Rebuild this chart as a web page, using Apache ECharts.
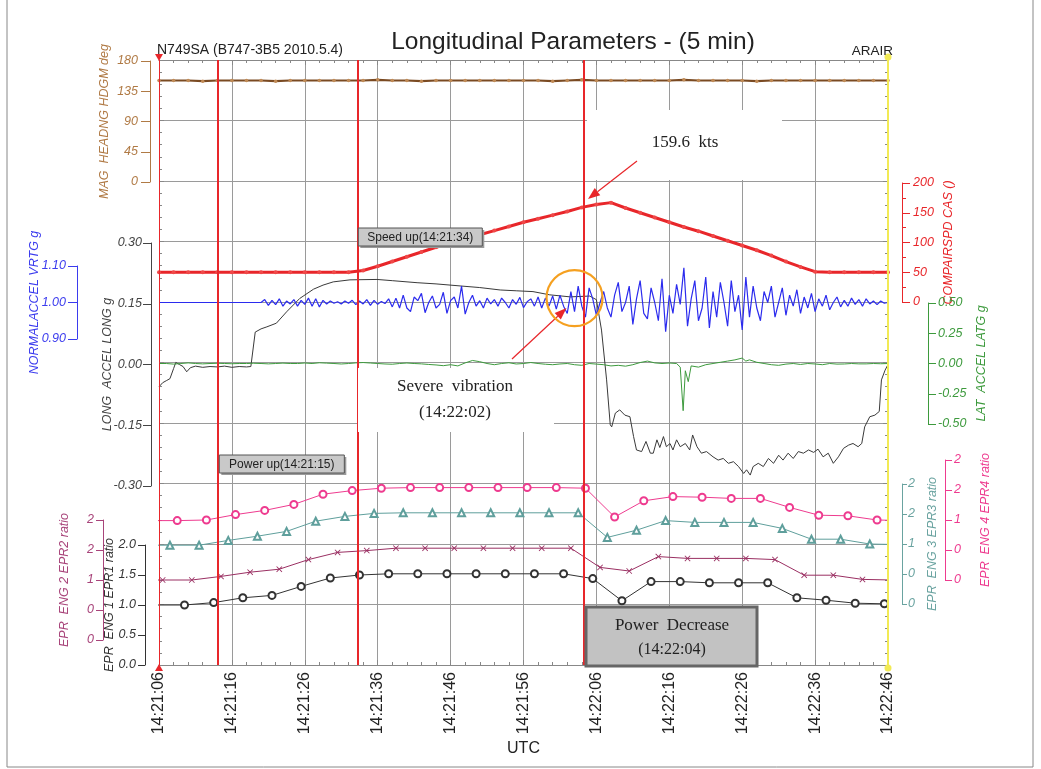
<!DOCTYPE html>
<html><head><meta charset="utf-8">
<script src="https://cdn.jsdelivr.net/npm/echarts/dist/echarts.min.js"></script>
<style>html,body{margin:0;padding:0;background:#fff}#c{width:1041px;height:769px}</style>
</head><body><div id="c"></div>
<script>
// ---------------- DATA (time = seconds after 14:21:06 UTC) ----------------
const xTickLabels = ['14:21:06','14:21:16','14:21:26','14:21:36','14:21:46','14:21:56','14:22:06','14:22:16','14:22:26','14:22:36','14:22:46'];
const epr1TickLabels = ['0.0','0.5','1.0','1.5','2.0'];
const epr2TickLabels = ['0','0','1','2','2'];
const epr3TickLabels = ['0','0','1','2','2'];
const epr4TickLabels = ['0','0','1','2','2'];
const eventTimes = [8, 27.2, 58.3]; // Power up, Speed up, Power decrease markers

// MAG HEADING (deg), every 2 s
const headingStep = 2;
const heading = [151,151,151,150,151,151,151,151,150,151, 151,151,151,151,151,152,151,151,150,151,
                 151,151,151,151,151,151,151,150,151,152, 151,151,151,151,151,151,152,151,151,151,
                 151,150,151,151,151,151,151,151,151,151, 151];
// COMPUTED AIRSPEED (kts), every 2 s
const casStep = 2;
const cas = [50,50,50,50,50,50,50,50,50,50,50,50,50,50, 53,
             60,68,76,84,92,99,106,113,120,127,134,140,146,152,159,164,167,158,150,142,134,126,119,111,103,95,87,78,68,59,51,
             50,50,50,50,50];
// NORMAL ACCEL (g): flat until 14 s, then every 0.5 s
const vrtgFlat = [[0, 1.0], [13.5, 1.0]];
const vrtgStart = 14, vrtgStep = 0.5;
const vrtg = [1.00,1.008,0.992,1.006,0.994,1.01,0.99,1.004,0.996,1.008,0.99,1.006,0.995,
  1.012,0.99,1.01,0.988,1.006,0.996,1.004,0.998,1.002,0.996,1.004,0.998,1.006,0.994,
  1.004,0.996,1.008,0.992,1.006,0.995,1.003,0.997,1.01,0.988,1.012,0.985,
  1.02,0.985,0.975,1.015,1.005,1.025,0.972,1.0,1.018,0.985,0.995,1.028,0.97,1.005,
  1.015,0.985,1.045,0.968,1.0,1.02,0.99,1.005,0.985,1.012,0.996,1.008,
  0.99,1.012,1.0,0.985,1.008,0.995,1.014,0.986,1.002,1.01,0.99,1.015,
  0.985,1.012,0.99,1.018,0.982,1.02,0.99,0.97,
  1.03,0.975,1.045,0.99,0.96,1.04,1.01,0.965,
  1.0,1.03,0.985,0.96,1.02,1.055,0.975,1.0,
  1.045,0.94,1.01,1.06,0.97,0.955,1.04,1.0,0.95,1.065,0.92,1.02,
  0.97,1.05,0.995,1.095,0.935,1.01,1.06,0.95,0.985,1.07,0.93,1.03,
  0.96,1.055,1.0,0.935,1.06,0.975,1.02,0.925,1.07,0.96,1.045,0.985,
  0.95,1.03,1.0,1.045,0.96,1.0,1.04,0.965,1.02,0.99,1.035,0.97,
  1.015,0.985,1.025,0.975,1.01,0.99,1.02,0.98,1.0,1.015,0.988,1.006,
  0.99,1.012,0.995,1.008,0.99,1.01,0.996,1.004,0.994,1.004,0.998,1.0];
// LONG ACCEL (g) [time, value]
const longAccel = [[0,-0.055],[0.5,-0.045],[1,-0.04],[1.5,-0.035],[2,-0.01],[2.3,0.005],[2.8,0],[3.3,-0.005],[3.8,-0.018],[4.3,-0.008],[5,-0.004],[6,-0.007],[7,-0.005],[8,-0.006],[9,-0.004],[10,-0.007],[11,-0.005],[12,-0.006],[12.6,-0.005],[13.2,0.08],[14,0.088],[14.8,0.093],[16.1,0.102],[17.5,0.13],[19.3,0.163],[21.2,0.186],[22.5,0.196],[23.9,0.204],[26.2,0.209],[29.9,0.21],[32,0.207],[35.4,0.202],[38,0.199],[41.3,0.194],[44,0.19],[46.8,0.184],[49,0.182],[51.3,0.18],[53.6,0.172],[56.4,0.167],[59.1,0.169],[60,0.16],[60.7,0.085],[61.4,-0.038],[61.9,-0.149],[62.1,-0.154],[62.6,-0.12],[63.2,-0.112],[63.9,-0.125],[64.6,-0.129],[65.1,-0.178],[65.5,-0.211],[66.2,-0.215],[66.8,-0.19],[67.4,-0.219],[67.8,-0.219],[68.3,-0.186],[68.7,-0.205],[69.2,-0.178],[69.6,-0.203],[70.1,-0.195],[70.5,-0.211],[71,-0.186],[71.5,-0.203],[72.2,-0.195],[72.8,-0.211],[73.2,-0.174],[73.8,-0.203],[74.4,-0.219],[75.1,-0.215],[76,-0.228],[76.7,-0.236],[77.4,-0.232],[78.1,-0.244],[78.8,-0.24],[79.5,-0.252],[80.2,-0.269],[80.6,-0.26],[81.1,-0.273],[81.5,-0.252],[82.2,-0.244],[82.9,-0.252],[83.6,-0.232],[84.3,-0.244],[85,-0.224],[85.6,-0.236],[86.3,-0.219],[87,-0.232],[87.7,-0.215],[88.4,-0.219],[89.1,-0.211],[89.8,-0.217],[90.4,-0.209],[91.1,-0.228],[91.8,-0.219],[92.5,-0.244],[93.2,-0.228],[93.9,-0.207],[94.6,-0.199],[95.2,-0.195],[95.9,-0.203],[96.4,-0.195],[96.8,-0.154],[97.5,-0.129],[98.2,-0.125],[98.8,-0.116],[99.1,-0.038],[99.6,-0.014],[100,0]];
// LAT ACCEL (g) [time, value]
const latAccel = [[0,0],[1,0],[2,-0.005],[3,0],[4,0.005],[5,0],[6,-0.003],[7,0],[8,0.002],[9,0],[10,-0.002],[11,0],[12,0],[13,0.002],[14,0],[15,-0.003],[16,0],[17,0.003],[18,0],[19,0],[20,0.004],[21,0],[22,0.006],[23,0.003],[24,0],[25,-0.004],[26,0],[27,0.005],[28,0.008],[29,0.004],[30,0],[31,-0.004],[32,-0.006],[33,0],[34,0.004],[35,0],[36,-0.003],[37,-0.008],[38,-0.012],[39,-0.018],[40,-0.01],[41,-0.02],[42,0.005],[43,0.025],[44,0.015],[45,0],[46,-0.01],[47,0],[48,0.006],[49,-0.004],[50,0],[51,0.008],[52,0],[53,-0.006],[54,-0.01],[55,-0.004],[56,0],[57,-0.01],[58,-0.015],[59,0],[60,-0.005],[61,-0.01],[62,-0.02],[63,-0.015],[64,-0.022],[65,-0.01],[66,0.008],[67,0.02],[68,0.005],[69,0],[70,0.004],[71,0],[71.5,-0.03],[71.9,-0.39],[72.2,-0.06],[72.6,-0.15],[73,-0.02],[74,-0.03],[75,-0.01],[76,0],[77,0.01],[78,0.02],[79,0.03],[80,0.045],[80.5,0.02],[81,0.03],[82,0.01],[83,0],[84,-0.01],[85,-0.015],[86,-0.005],[87,0],[88,-0.008],[89,0],[90,-0.004],[91,-0.01],[92,0],[93,-0.005],[94,-0.004],[95,0],[96,-0.003],[97,-0.003],[98,0],[99,-0.002],[100,0]];
// EPR ratios, one sample per engine every 4 s (staggered)
const eprStep = 4;
const epr1Start = -0.5, epr1 = [1.00,1.00,1.04,1.12,1.16,1.31,1.45,1.50,1.52,1.52,1.52,1.52,1.52,1.52,1.52,1.44,1.07,1.39,1.39,1.37,1.37,1.37,1.12,1.08,1.03,1.02,1.01];
const epr2Start = -3.5, epr2 = [1.00,1.00,1.00,1.06,1.13,1.18,1.34,1.46,1.49,1.53,1.53,1.53,1.53,1.53,1.53,1.53,1.21,1.15,1.39,1.36,1.36,1.36,1.34,1.08,1.08,1.01,1.00];
const epr3Start = -2.5, epr3 = [0.98,0.98,0.98,1.06,1.13,1.21,1.38,1.46,1.51,1.52,1.52,1.52,1.52,1.52,1.52,1.52,1.11,1.23,1.39,1.36,1.36,1.36,1.26,1.08,1.08,1.00,0.99];
const epr4Start = -1.5, epr4 = [0.99,0.99,1.00,1.09,1.16,1.26,1.43,1.49,1.53,1.54,1.54,1.54,1.54,1.54,1.54,1.53,1.05,1.32,1.39,1.38,1.36,1.36,1.21,1.08,1.07,1.00,0.99];

// ---------------- CHART ----------------
const SANS = '"Liberation Sans", Arial, sans-serif';
const SERIF = '"Liberation Serif", "DejaVu Serif", serif';
const stepped = (start, step, arr) => arr.map((v, i) => [start + i * step, v]);

const C = {
  brown: '#b07a45', brownLine: '#7a4a22', red: '#e8262a', blue: '#2b2bee',
  green: '#3d9a3d', epr1: '#333333', epr2: '#9a2f62', epr3: '#5f9f9c', epr4: '#ee3b8f'
};
const gridDefs = [
  [60, 605], [61, 121], [183, 119], [266, 73], [243, 243], [303, 121], [545, 120], [520, 120], [484, 120], [460, 120]
];
const grids = gridDefs.map(([top, h]) => ({left: 159, right: 153, top, height: h, containLabel: false, outerBoundsMode: 'none'}));

const xAxes = [
  {type: 'value', gridIndex: 0, min: 0, max: 100, interval: 10, position: 'bottom',
   axisLine: {show: true, onZero: false, lineStyle: {color: '#888'}},
   axisTick: {show: true, inside: true, length: 5, lineStyle: {color: '#888'}},
   minorTick: {show: true, splitNumber: 5, length: 3, lineStyle: {color: '#888'}},
   splitLine: {show: true, lineStyle: {color: '#9a9a9a', width: 1}},
   axisLabel: {rotate: 90, margin: 7, fontSize: 16, color: '#222', fontFamily: SANS,
               formatter: v => xTickLabels[Math.round(v / 10)] || ''},
   name: 'UTC', nameLocation: 'middle', nameGap: 76, nameMoveOverlap: false,
   nameTextStyle: {fontSize: 16, color: '#222', fontFamily: SANS}},
  {type: 'value', gridIndex: 0, min: 0, max: 100, interval: 10, position: 'top',
   axisLine: {show: true, onZero: false, lineStyle: {color: '#888'}},
   axisTick: {show: true, inside: true, length: 5, lineStyle: {color: '#888'}},
   minorTick: {show: true, splitNumber: 5, length: 3, lineStyle: {color: '#888'}},
   splitLine: {show: false}, axisLabel: {show: false}}
];
for (let g = 1; g < gridDefs.length; g++) xAxes.push({type: 'value', gridIndex: g, min: 0, max: 100, show: false});

function yax(gi, pos, off, min, max, interval, color, name, nameGap, fmt, tickLen, margin, extra) {
  return Object.assign({type: 'value', gridIndex: gi, position: pos, offset: off, min, max, interval,
    name, nameLocation: 'middle', nameRotate: 90, nameGap, nameMoveOverlap: false,
    nameTextStyle: {color, fontStyle: 'italic', fontSize: 12.5, fontFamily: SANS},
    axisLine: {show: true, onZero: false, lineStyle: {color, width: 1}},
    axisTick: {show: true, length: tickLen, lineStyle: {color}},
    axisLabel: {color, fontStyle: 'italic', fontSize: 12.5, fontFamily: SANS, margin, formatter: fmt},
    splitLine: {show: false}}, extra || {});
}
const yAxes = [
  {type: 'value', gridIndex: 0, min: 0, max: 10, interval: 1, position: 'left',
   axisLine: {show: true, onZero: false, lineStyle: {color: C.red, width: 1}},
   axisTick: {show: true, inside: true, length: 5, lineStyle: {color: '#888'}},
   minorTick: {show: true, splitNumber: 5, length: 3, lineStyle: {color: '#888'}},
   axisLabel: {show: false}, splitLine: {show: true, lineStyle: {color: '#9a9a9a', width: 1}}},
  {type: 'value', gridIndex: 0, min: 0, max: 10, interval: 1, position: 'right',
   axisLine: {show: true, onZero: false, lineStyle: {color: '#f2ea55', width: 2}},
   axisTick: {show: true, inside: true, length: 5, lineStyle: {color: '#888'}},
   minorTick: {show: true, splitNumber: 5, length: 3, lineStyle: {color: '#888'}},
   axisLabel: {show: false}, splitLine: {show: false}},
  yax(1, 'left', 9, 0, 180, 45, C.brown, 'MAG  HEADNG HDGM deg', 39, v => String(v), 9, 12),
  yax(2, 'right', 14, 0, 200, 50, C.red, 'COMPAIRSPD CAS ()', 40, v => String(v), 8, 11,
      {minorTick: {show: true, splitNumber: 2, length: 4, lineStyle: {color: C.red}}}),
  yax(3, 'left', 82, 0.9, 1.1, 0.1, '#3b3bee', 'NORMALACCEL VRTG g', 36, v => v.toFixed(2), 9, 11),
  yax(4, 'left', 8, -0.3, 0.3, 0.15, '#444', 'LONG  ACCEL LONG g', 37, v => v.toFixed(2), 8, 9),
  yax(5, 'right', 40, -0.5, 0.5, 0.25, C.green, 'LAT  ACCEL LATG g', 47, v => (v < 0 ? '-' : '') + Math.abs(v).toFixed(2), 8, 10),
  yax(6, 'left', 14, 0, 2, 0.5, '#333', 'EPR  ENG 1 EPR1 ratio', 29, v => epr1TickLabels[Math.round(v / 0.5)], 7, 9),
  yax(7, 'left', 56, 0, 2, 0.5, '#a8447a', 'EPR  ENG 2 EPR2 ratio', 32, v => epr2TickLabels[Math.round(v / 0.5)], 7, 9),
  yax(8, 'right', 14, 0, 2, 0.5, '#6aa3a0', 'EPR  ENG 3 EPR3 ratio', 24, v => epr3TickLabels[Math.round(v / 0.5)], 5, 6),
  yax(9, 'right', 57, 0, 2, 0.5, C.epr4, 'EPR  ENG 4 EPR4 ratio', 34, v => epr4TickLabels[Math.round(v / 0.5)], 7, 9)
];

const X_PATH = 'path://M0,1L1,0L5,4L9,0L10,1L6,5L10,9L9,10L5,6L1,10L0,9L4,5Z';
function lineSeries(gi, data, color, width, extra) {
  return Object.assign({type: 'line', xAxisIndex: gi === 0 ? 0 : gi + 1, yAxisIndex: gi + 1, data,
    clip: true, silent: true, animation: false, showSymbol: false, symbol: 'none',
    lineStyle: {color, width}, itemStyle: {color}}, extra || {});
}
const markLineData = [
  {xAxis: 0, lineStyle: {color: C.red, width: 1, type: 'solid'}},
  {xAxis: 100, lineStyle: {color: '#f2ea55', width: 2, type: 'solid'}}
].concat(eventTimes.map(t => ({xAxis: t, lineStyle: {color: C.red, width: 2, type: 'solid'}})));

const series = [
  {type: 'line', xAxisIndex: 0, yAxisIndex: 0, data: [[0, 0], [100, 0]], symbol: 'none', silent: true,
   lineStyle: {opacity: 0}, animation: false, z: 5,
   markLine: {silent: true, symbol: ['none', 'none'], label: {show: false}, animation: false, data: markLineData}},
  lineSeries(1, stepped(0, headingStep, heading), C.brownLine, 2.2,
    {showSymbol: true, symbol: 'circle', symbolSize: 3.5, itemStyle: {color: '#c08a55'}}),
  lineSeries(2, stepped(0, casStep, cas), C.red, 3,
    {showSymbol: true, symbol: 'circle', symbolSize: 4, itemStyle: {color: '#f04848'}}),
  lineSeries(4, longAccel, '#3a3a3a', 1),
  lineSeries(3, vrtgFlat.concat(stepped(vrtgStart, vrtgStep, vrtg)), C.blue, 1.2),
  lineSeries(5, latAccel, C.green, 1),
  lineSeries(6, stepped(epr1Start, eprStep, epr1), C.epr1, 1,
    {showSymbol: true, symbol: 'emptyCircle', symbolSize: 7, itemStyle: {color: C.epr1, borderWidth: 1}}),
  lineSeries(7, stepped(epr2Start, eprStep, epr2), C.epr2, 1,
    {showSymbol: true, symbol: X_PATH, symbolSize: 6, itemStyle: {color: C.epr2}}),
  lineSeries(8, stepped(epr3Start, eprStep, epr3), C.epr3, 1,
    {showSymbol: true, symbol: 'emptyTriangle', symbolSize: 7, itemStyle: {color: C.epr3, borderWidth: 1}}),
  lineSeries(9, stepped(epr4Start, eprStep, epr4), C.epr4, 1,
    {showSymbol: true, symbol: 'emptyCircle', symbolSize: 7, itemStyle: {color: C.epr4, borderWidth: 1}})
];

const chart = echarts.init(document.getElementById('c'), null, {renderer: 'canvas'});
chart.setOption({
  animation: false, backgroundColor: '#fff',
  grid: grids, xAxis: xAxes, yAxis: yAxes, series
});

// ---------------- ANNOTATIONS ----------------
const P = (gi, x, y) => chart.convertToPixel({gridIndex: gi}, [x, y]);
function arrow(x1, y1, x2, y2, color) {
  const a = Math.atan2(y2 - y1, x2 - x1), L = 12, W = 4.5;
  const bx = x2 - L * Math.cos(a), by = y2 - L * Math.sin(a);
  return [
    {type: 'line', z: 120, shape: {x1, y1, x2: bx, y2: by}, style: {stroke: color, lineWidth: 1.2}},
    {type: 'polygon', z: 120, shape: {points: [[x2, y2], [bx + W * Math.sin(a), by - W * Math.cos(a)], [bx - W * Math.sin(a), by + W * Math.cos(a)]]},
     style: {fill: color}}
  ];
}
function txt(x, y, text, font, fill, align) {
  return {type: 'text', z: 130, x, y, style: {text, font, fill: fill || '#222', align: align || 'center', verticalAlign: 'middle'}};
}
function tag(x, y, w, h, text) {
  return [
    {type: 'rect', z: 110, shape: {x: x + 2, y: y + 2, width: w, height: h}, style: {fill: '#9a9a9a'}},
    {type: 'rect', z: 111, shape: {x, y, width: w, height: h}, style: {fill: '#c9c9c9', stroke: '#555', lineWidth: 1}},
    txt(x + w / 2, y + h / 2 + 1, text, '12px ' + SANS, '#222')
  ];
}
const [xPU] = P(0, eventTimes[0], 0);
const [xSU] = P(0, eventTimes[1], 0);
const [xPD] = P(0, eventTimes[2], 0);
const casPt = P(2, eventTimes[2], 159.6);
const vibPt = P(3, 57, 1.012);
const tl = P(0, 0, 10), bl = P(0, 0, 0), tr = P(0, 100, 10), br = P(0, 100, 0);

const els = [
  {type: 'rect', z: 1, shape: {x: 7, y: -5, width: 1026, height: 772}, style: {fill: 'none', stroke: '#888', lineWidth: 1}},
  txt(573, 42, 'Longitudinal Parameters - (5 min)', '24.5px ' + SANS, '#222'),
  txt(157, 50, 'N749SA (B747-3B5 2010.5.4)', '14px ' + SANS, '#222', 'left'),
  txt(893, 51, 'ARAIR', '13.5px ' + SANS, '#222', 'right'),
  // 159.6 kts box
  {type: 'rect', z: 105, shape: {x: 587, y: 110, width: 195, height: 70}, style: {fill: '#fff'}},
  txt(685, 143, '159.6  kts', '17px ' + SERIF, '#222'),
  ...arrow(637, 161, casPt[0] + 4, casPt[1] - 8, C.red),
  // vibration
  {type: 'circle', z: 125, shape: {cx: vibPt[0], cy: vibPt[1], r: 28}, style: {fill: 'none', stroke: '#f5a020', lineWidth: 2.2}},
  {type: 'rect', z: 105, shape: {x: 358, y: 368, width: 196, height: 64}, style: {fill: '#fff'}},
  txt(455, 387, 'Severe  vibration', '17px ' + SERIF, '#222'),
  txt(455, 413, '(14:22:02)', '17px ' + SERIF, '#222'),
  ...arrow(512, 359, vibPt[0] - 8, vibPt[1] + 10, C.red),
  // tags
  ...tag(xSU + 1, 228, 124, 18, 'Speed up(14:21:34)'),
  ...tag(xPU + 2, 455, 125, 18, 'Power up(14:21:15)'),
  // power decrease
  {type: 'rect', z: 110, shape: {x: xPD + 2, y: 607, width: 171, height: 59}, style: {fill: '#c2c2c2', stroke: '#666', lineWidth: 3}},
  txt(xPD + 88, 626, 'Power  Decrease', '17px ' + SERIF, '#222'),
  txt(xPD + 88, 650, '(14:22:04)', '16px ' + SERIF, '#222'),
  // edge markers
  {type: 'polygon', z: 126, shape: {points: [[tl[0] - 4, tl[1] - 6], [tl[0] + 4, tl[1] - 6], [tl[0], tl[1] + 1]]}, style: {fill: C.red}},
  {type: 'polygon', z: 126, shape: {points: [[bl[0] - 4, bl[1] + 6], [bl[0] + 4, bl[1] + 6], [bl[0], bl[1] - 1]]}, style: {fill: C.red}},
  {type: 'circle', z: 126, shape: {cx: tr[0], cy: tr[1] - 3, r: 3.5}, style: {fill: '#f2ea55'}},
  {type: 'circle', z: 126, shape: {cx: br[0], cy: br[1] + 3, r: 3.5}, style: {fill: '#f2ea55'}}
];
chart.setOption({graphic: {elements: els}});
</script>
</body></html>
